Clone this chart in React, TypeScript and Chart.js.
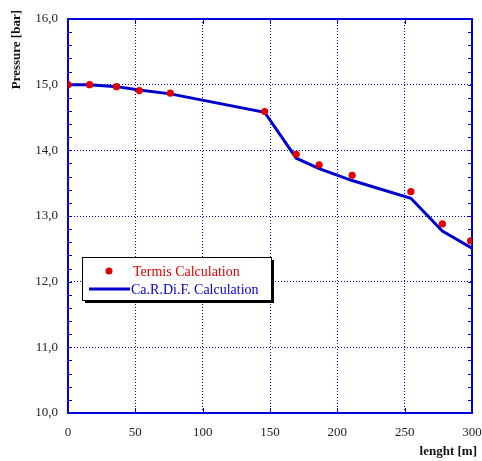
import React, { useEffect, useRef } from "react";
import { Chart, registerables } from "chart.js";

Chart.register(...registerables);

const termisX = [0, 16, 36, 53, 76, 146, 169.5, 186.5, 211, 254.6, 278, 299];
const termisY = [15.0, 15.0, 14.97, 14.91, 14.87, 14.59, 13.94, 13.78, 13.62, 13.37, 12.88, 12.62];
const cardifX = [0, 16, 36, 53, 76, 146, 169.5, 186.5, 211, 254.6, 278, 300];
const cardifY = [15.0, 15.0, 14.97, 14.92, 14.86, 14.58, 13.88, 13.72, 13.54, 13.27, 12.77, 12.51];
const seriesNames = ["Termis Calculation", "Ca.R.Di.F. Calculation"];
const xTitle = "lenght [m]";
const yTitle = "Pressure [bar]";

const FONT = "'Liberation Serif', 'Times New Roman', serif";
const AXIS_BLUE = "#0000e0";
const LINE_BLUE = "#0000cc";
const DOT_RED = "#e00000";

const framePlugin = {
  id: "frame",
  beforeDatasetsDraw(chart: any) {
    const { ctx, chartArea: a, scales } = chart;
    const y = scales.y;
    const x = scales.x;
    ctx.save();
    ctx.strokeStyle = AXIS_BLUE;
    ctx.lineWidth = 1;
    for (let v = 10; v <= 16.0001; v += 0.2) {
      const py = Math.round(y.getPixelForValue(v)) + 0.5;
      ctx.beginPath();
      ctx.moveTo(a.left, py);
      ctx.lineTo(a.left + 4, py);
      ctx.moveTo(a.right, py);
      ctx.lineTo(a.right - 4, py);
      ctx.stroke();
    }
    for (let v = 0; v <= 300; v += 50) {
      const px = Math.round(x.getPixelForValue(v)) + 0.5;
      ctx.beginPath();
      ctx.moveTo(px, a.bottom);
      ctx.lineTo(px, a.bottom - 5);
      ctx.moveTo(px, a.top);
      ctx.lineTo(px, a.top + 5);
      ctx.stroke();
    }
    ctx.lineWidth = 2;
    ctx.strokeRect(a.left, a.top, a.right - a.left, a.bottom - a.top);
    ctx.restore();
  },
  afterDraw(chart: any) {
    const { ctx } = chart;
    ctx.save();
    ctx.fillStyle = "#111";
    ctx.font = `bold 13px ${FONT}`;
    ctx.textAlign = "right";
    ctx.textBaseline = "middle";
    ctx.fillText(xTitle, 477, 452);
    ctx.translate(17, 10);
    ctx.rotate(-Math.PI / 2);
    ctx.textAlign = "right";
    ctx.fillText(yTitle, 0, 0);
    ctx.restore();

    ctx.save();
    const bx = 82, by = 257, bw = 189, bh = 43;
    ctx.fillStyle = "#000";
    ctx.fillRect(bx + 3, by + 3, bw, bh);
    ctx.fillStyle = "#fff";
    ctx.fillRect(bx, by, bw, bh);
    ctx.strokeStyle = "#000";
    ctx.lineWidth = 1;
    ctx.strokeRect(bx + 0.5, by + 0.5, bw, bh);
    ctx.fillStyle = DOT_RED;
    ctx.beginPath();
    ctx.arc(109, 271, 3.5, 0, Math.PI * 2);
    ctx.fill();
    ctx.strokeStyle = LINE_BLUE;
    ctx.lineWidth = 3;
    ctx.beginPath();
    ctx.moveTo(89, 289);
    ctx.lineTo(130, 289);
    ctx.stroke();
    ctx.font = `14px ${FONT}`;
    ctx.textAlign = "left";
    ctx.textBaseline = "middle";
    ctx.fillStyle = DOT_RED;
    ctx.fillText(seriesNames[0], 133, 272);
    ctx.fillStyle = LINE_BLUE;
    ctx.fillText(seriesNames[1], 131, 290);
    ctx.restore();
  },
};

export default function App() {
  const ref = useRef<HTMLCanvasElement | null>(null);
  useEffect(() => {
    document.body.style.margin = "0";
    const canvas = ref.current;
    if (!canvas) return;
    const chart = new Chart(canvas, {
      type: "scatter",
      data: {
        datasets: [
          {
            label: seriesNames[0],
            data: termisX.map((x, i) => ({ x, y: termisY[i] })),
            showLine: false,
            pointRadius: 3.6,
            pointBackgroundColor: DOT_RED,
            pointBorderColor: DOT_RED,
            pointBorderWidth: 0,
            order: 0,
          },
          {
            label: seriesNames[1],
            data: cardifX.map((x, i) => ({ x, y: cardifY[i] })),
            showLine: true,
            borderColor: LINE_BLUE,
            borderWidth: 3,
            pointRadius: 0,
            tension: 0,
            order: 1,
          },
        ],
      },
      options: {
        animation: false,
        responsive: false,
        layout: { padding: { top: 19, right: 0, left: 0, bottom: 0 } },
        plugins: { legend: { display: false }, tooltip: { enabled: false } },
        scales: {
          x: {
            type: "linear",
            min: 0,
            max: 300,
            afterFit: (s: any) => {
              s.height = 48;
              s.paddingRight = 10;
            },
            ticks: {
              stepSize: 50,
              padding: 12,
              color: "#222",
              font: { family: FONT, size: 13 },
              maxRotation: 0,
            },
            grid: { color: AXIS_BLUE, lineWidth: 1, drawTicks: false },
            border: { display: false, dash: [1, 2] },
          },
          y: {
            type: "linear",
            min: 10,
            max: 16,
            afterFit: (s: any) => {
              s.width = 68;
            },
            ticks: {
              stepSize: 1,
              padding: 10,
              color: "#222",
              font: { family: FONT, size: 13 },
              callback: (v: any) => Number(v).toFixed(1).replace(".", ","),
            },
            grid: { color: AXIS_BLUE, lineWidth: 1, drawTicks: false },
            border: { display: false, dash: [1, 2] },
          },
        },
      },
      plugins: [framePlugin],
    });
    return () => chart.destroy();
  }, []);
  return (
    <div style={{ width: 482, height: 461 }}>
      <canvas ref={ref} width={482} height={461} style={{ display: "block" }} />
    </div>
  );
}
